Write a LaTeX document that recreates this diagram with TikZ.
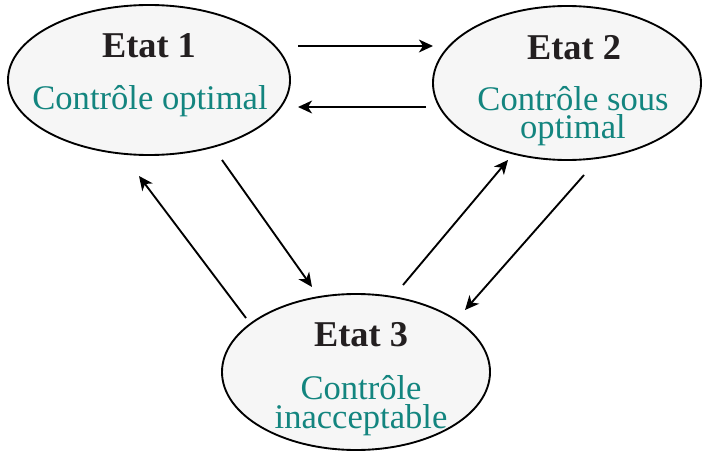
\documentclass[tikz,border=0pt]{standalone}
\usepackage{fontspec}
\setmainfont{Liberation Serif}
\usetikzlibrary{arrows.meta,shapes.geometric}
\definecolor{etInk}{HTML}{231F20}
\definecolor{etTeal}{HTML}{13857F}
\definecolor{etFill}{HTML}{F6F6F6}
\tikzset{
  etatbox/.style={ellipse,draw=black,line width=1.6pt,
    fill=etFill,inner sep=0pt},
  ttl/.style={font=\fontsize{31}{34}\selectfont\bfseries,
    text=etInk,inner sep=0pt,anchor=base},
  sub/.style={font=\fontsize{29.5}{24}\selectfont,
    text=etTeal,inner sep=0pt,align=center,anchor=base},
  arr/.style={-{Stealth[length=12pt,width=11pt,inset=3.5pt]},
    line width=1.6pt,color=black},
}
\begin{document}
\begin{tikzpicture}[x=0.03cm,y=-0.03cm]

  \useasboundingbox (0,0) rectangle (704,453);

  % the three states
  \node[etatbox,minimum width=8.46cm,minimum height=4.5cm] (e1) at (149,80) {};
  \node[etatbox,minimum width=8.04cm,minimum height=4.62cm] (e2) at (567,83) {};
  \node[etatbox,minimum width=8.04cm,minimum height=4.68cm] (e3) at (356,372) {};

  \node[ttl] (t1) at (149,58) {Etat 1};
  \node[ttl] (t2) at (574,60) {Etat 2};
  \node[ttl] (t3) at (361,346) {Etat 3};

  % base of a two-line text is its last line
  \node[sub] (s1) at (150,110) {Contrôle optimal};
  \node[sub] (s2) at (573,139) {Contrôle sous\\optimal};
  \node[sub] (s3) at (361,428) {Contrôle\\inacceptable};

  % arrow ends
  \coordinate (a12) at (298,46);  \coordinate (b12) at (433,46);
  \coordinate (a21) at (426,107); \coordinate (b21) at (298,107);
  \coordinate (a13) at (222,160); \coordinate (b13) at (312,287);
  \coordinate (a31) at (246,318); \coordinate (b31) at (139,176);
  \coordinate (a32) at (403,285); \coordinate (b32) at (508,160);
  \coordinate (a23) at (584,175); \coordinate (b23) at (465,310);

  \foreach \p in {12,21,13,31,32,23}
    \draw[arr] (a\p) -- (b\p);

\end{tikzpicture}
\end{document}
